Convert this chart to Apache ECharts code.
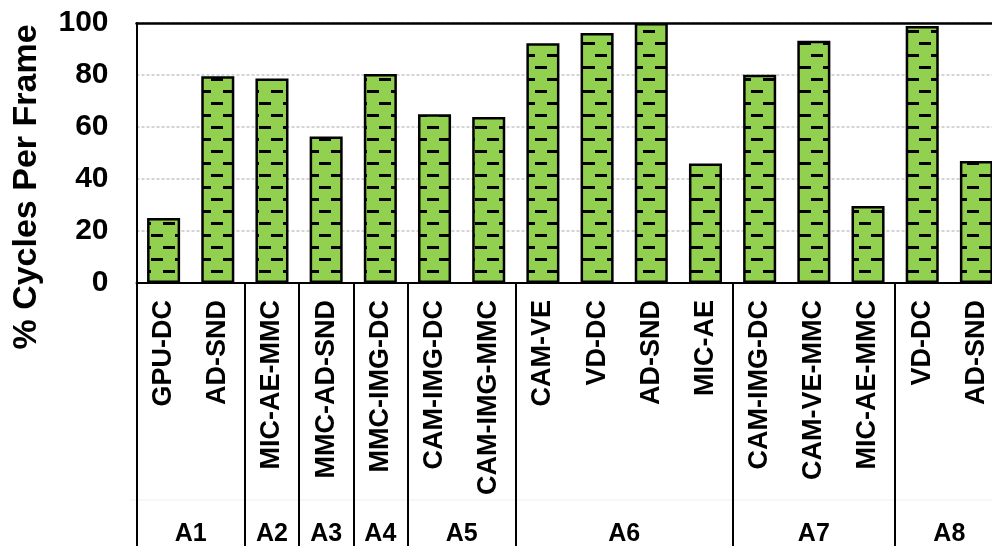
<!DOCTYPE html>
<html>
<head>
<meta charset="utf-8">
<script src="https://cdn.jsdelivr.net/npm/echarts@6/dist/echarts.min.js"></script>
<style>
  html, body { margin: 0; padding: 0; background: #fff; }
  #chart { width: 992px; height: 546px; }
</style>
</head>
<body>
<div id="chart"></div>
<script>
// Workload pairs, their share of cycles per frame, and the scenario groups
const categories = [
  'GPU-DC', 'AD-SND',
  'MIC-AE-MMC',
  'MMC-AD-SND',
  'MMC-IMG-DC',
  'CAM-IMG-DC', 'CAM-IMG-MMC',
  'CAM-VE', 'VD-DC', 'AD-SND', 'MIC-AE',
  'CAM-IMG-DC', 'CAM-VE-MMC', 'MIC-AE-MMC',
  'VD-DC', 'AD-SND'
];
const cyclesPerFrame = [
  25.0, 79.5,
  78.7,
  56.3,
  80.4,
  64.9, 63.8,
  92.2, 96.2, 100, 46.0,
  80.1, 93.2, 29.6,
  98.8, 46.9
];
const groupNames = ['A1', 'A2', 'A3', 'A4', 'A5', 'A6', 'A7', 'A8'];
const groupSizes = [2, 1, 1, 1, 2, 4, 3, 2];
const yTicks = [0, 20, 40, 60, 80, 100];

const FONT = '"Liberation Sans", Arial, Helvetica, sans-serif';
const GREEN = '#92D050';

// Group boundaries (category indices) and centres (in category units)
const boundaries = [0];
const groupCenters = {};
groupSizes.forEach((n, i) => {
  const start = boundaries[boundaries.length - 1];
  groupCenters[(start + n / 2).toFixed(1)] = groupNames[i];
  boundaries.push(start + n);
});
const boundarySet = new Set(boundaries);

// Horizontal dash hatch used as bar fill
function makeHatch() {
  const c = document.createElement('canvas');
  c.width = 24; c.height = 24;
  const g = c.getContext('2d');
  g.fillStyle = GREEN;
  g.fillRect(0, 0, 24, 24);
  g.fillStyle = '#000';
  g.fillRect(19, 6, 5, 3);
  g.fillRect(0, 6, 7, 3);
  g.fillRect(7, 18, 12, 3);
  return c;
}

const chart = echarts.init(document.getElementById('chart'), null, { renderer: 'canvas' });

const option = {
  animation: false,
  backgroundColor: '#fff',
  grid: {
    left: 136.5, width: 867, top: 23, height: 260,
    outerBoundsMode: 'none',
    containLabel: false
  },
  xAxis: [
    {
      type: 'category',
      data: categories,
      boundaryGap: true,
      axisLine: { show: true, lineStyle: { color: '#000', width: 2 } },
      axisTick: {
        show: true,
        interval: (i) => boundarySet.has(i),
        length: 265,
        lineStyle: { color: '#000', width: 2 }
      },
      axisLabel: {
        interval: 0,
        rotate: 90,
        margin: 17,
        color: '#000',
        fontFamily: FONT,
        fontWeight: 'bold',
        fontSize: 27
      }
    },
    {
      type: 'value',
      position: 'bottom',
      min: 0, max: categories.length, interval: 0.5,
      axisLine: { show: false },
      axisTick: { show: false },
      splitLine: { show: false },
      axisLabel: {
        margin: 251,
        verticalAlign: 'middle',
        color: '#000',
        fontFamily: FONT,
        fontWeight: 'bold',
        fontSize: 25,
        formatter: (v) => groupCenters[Number(v).toFixed(1)] || ''
      }
    },
    {
      // plot frame along the top
      type: 'value',
      position: 'top',
      min: 0, max: categories.length,
      axisLine: { show: true, lineStyle: { color: '#000', width: 2.5 } },
      axisTick: { show: false },
      axisLabel: { show: false },
      splitLine: { show: false }
    }
  ],
  yAxis: {
    type: 'value',
    min: yTicks[0], max: yTicks[yTicks.length - 1], interval: yTicks[1] - yTicks[0],
    axisLine: { show: true, lineStyle: { color: '#000', width: 2 } },
    axisTick: { show: false },
    splitLine: { show: true, lineStyle: { color: '#d4d4d4', width: 2, type: [3, 2] } },
    axisLabel: {
      margin: 28,
      color: '#000',
      fontFamily: FONT,
      fontWeight: 'bold',
      fontSize: 30
    }
  },
  graphic: [
    {
      type: 'text',
      x: 27, y: 187,
      rotation: Math.PI / 2,
      style: {
        text: '% Cycles Per Frame',
        font: 'bold 34px ' + FONT,
        fill: '#000',
        textAlign: 'center',
        textVerticalAlign: 'middle'
      }
    },
    {
      type: 'line',
      shape: { x1: 130, y1: 500, x2: 992, y2: 500 },
      style: { stroke: '#efefef', lineWidth: 1 },
      z: -1
    }
  ],
  series: [
    {
      type: 'bar',
      xAxisIndex: 0,
      data: cyclesPerFrame,
      barWidth: '61%',
      z: 3,
      itemStyle: {
        color: { image: makeHatch(), repeat: 'repeat' },
        borderColor: '#000',
        borderWidth: 2.5
      }
    }
  ]
};

chart.setOption(option);
</script>
</body>
</html>
